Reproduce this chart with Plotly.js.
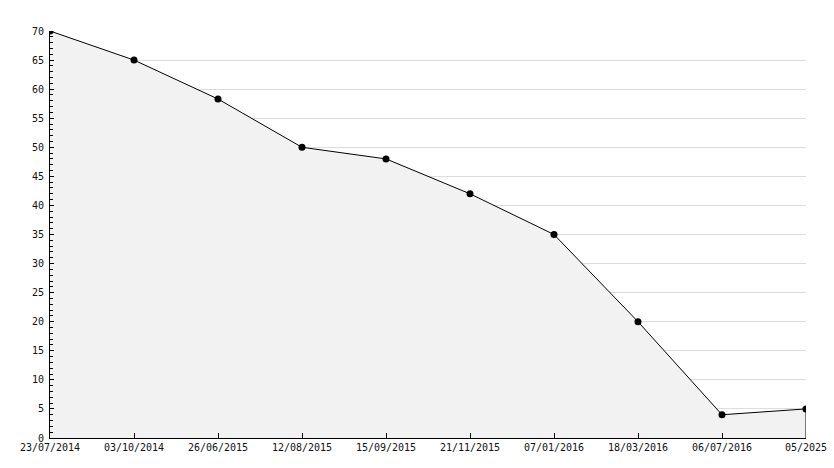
<!DOCTYPE html>
<html>
<head>
<meta charset="utf-8">
<script src="https://cdn.plot.ly/plotly-3.0.1.min.js"></script>
<style>html,body{margin:0;padding:0;background:#fff;}#chart{width:834px;height:468px;}</style>
</head>
<body>
<div id="chart"></div>
<script>
const dates = ["23/07/2014","03/10/2014","26/06/2015","12/08/2015","15/09/2015","21/11/2015","07/01/2016","18/03/2016","06/07/2016","05/2025"];
const values = [70, 65, 58.3, 50, 48, 42, 35, 20, 4, 5];

const lastX = dates[dates.length - 1];
const lastY = values[values.length - 1];

const font = {family: "DejaVu Sans Mono, monospace", size: 10, color: "#111"};

const traces = [
  {
    x: dates, y: values, type: "scatter", mode: "lines+markers",
    fill: "tozeroy", fillcolor: "#f2f2f2",
    line: {color: "#000", width: 1},
    marker: {color: "#000", size: 7, symbol: "circle"},
    hoverinfo: "x+y"
  },
  {
    x: [lastX, lastX], y: [lastY, 0], type: "scatter", mode: "lines",
    line: {color: "#000", width: 1}, hoverinfo: "skip"
  }
];

const layout = {
  width: 834, height: 468,
  margin: {l: 50, r: 28, t: 31, b: 30},
  paper_bgcolor: "#fff", plot_bgcolor: "#fff",
  showlegend: false,
  font: font,
  xaxis: {
    type: "category", range: [0, dates.length - 1],
    showgrid: false, zeroline: false,
    showline: true, linecolor: "#000", linewidth: 1,
    ticks: "inside", ticklen: 5, tickcolor: "#000",
    tickfont: font, fixedrange: true
  },
  yaxis: {
    range: [0, 70], dtick: 5, tick0: 0,
    showgrid: true, gridcolor: "#dddddd", gridwidth: 1,
    zeroline: false,
    showline: true, linecolor: "#000", linewidth: 1,
    ticks: "inside", ticklen: 4, tickcolor: "#000",
    minor: {dtick: 1, ticks: "inside", ticklen: 3, tickcolor: "#000", showgrid: false},
    ticklabelstandoff: 3,
    tickfont: font, fixedrange: true
  }
};

Plotly.newPlot("chart", traces, layout, {displayModeBar: false, staticPlot: true});
</script>
</body>
</html>
